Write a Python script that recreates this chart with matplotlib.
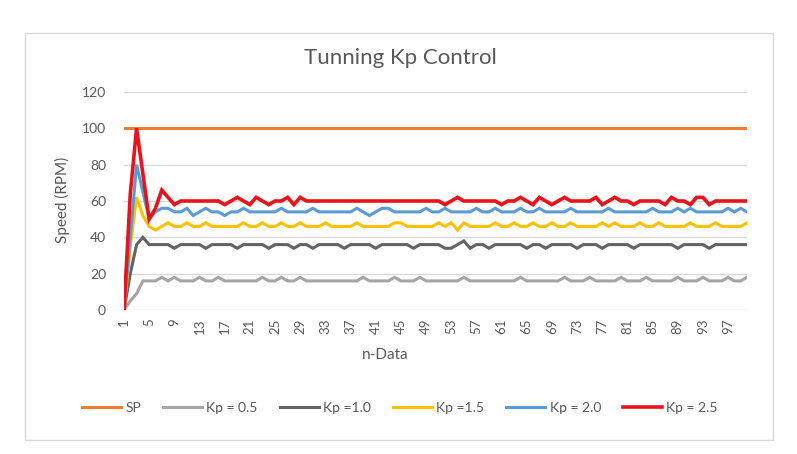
import matplotlib
matplotlib.use("Agg")
import matplotlib.pyplot as plt
from matplotlib.patches import Rectangle

plt.rcParams["font.family"] = ["Lato", "DejaVu Sans"]

# n-Data index 1..100
n_data = list(range(1, 101))

sp = [100, 100, 100, 100, 100, 100, 100, 100, 100, 100,
      100, 100, 100, 100, 100, 100, 100, 100, 100, 100,
      100, 100, 100, 100, 100, 100, 100, 100, 100, 100,
      100, 100, 100, 100, 100, 100, 100, 100, 100, 100,
      100, 100, 100, 100, 100, 100, 100, 100, 100, 100,
      100, 100, 100, 100, 100, 100, 100, 100, 100, 100,
      100, 100, 100, 100, 100, 100, 100, 100, 100, 100,
      100, 100, 100, 100, 100, 100, 100, 100, 100, 100,
      100, 100, 100, 100, 100, 100, 100, 100, 100, 100,
      100, 100, 100, 100, 100, 100, 100, 100, 100, 100]

kp05 = [0, 5, 9, 16, 16, 16, 18, 16, 18, 16,
        16, 16, 18, 16, 16, 18, 16, 16, 16, 16,
        16, 16, 18, 16, 16, 18, 16, 16, 18, 16,
        16, 16, 16, 16, 16, 16, 16, 16, 18, 16,
        16, 16, 16, 18, 16, 16, 16, 18, 16, 16,
        16, 16, 16, 16, 18, 16, 16, 16, 16, 16,
        16, 16, 16, 18, 16, 16, 16, 16, 16, 16,
        18, 16, 16, 16, 18, 16, 16, 16, 16, 18,
        16, 16, 16, 18, 16, 16, 16, 16, 18, 16,
        16, 16, 18, 16, 16, 16, 18, 16, 16, 18]

kp10 = [0, 20, 36, 40, 36, 36, 36, 36, 34, 36,
        36, 36, 36, 34, 36, 36, 36, 36, 34, 36,
        36, 36, 36, 34, 36, 36, 36, 34, 36, 36,
        34, 36, 36, 36, 36, 34, 36, 36, 36, 36,
        34, 36, 36, 36, 36, 36, 34, 36, 36, 36,
        36, 34, 34, 36, 38, 34, 36, 36, 34, 36,
        36, 36, 36, 36, 34, 36, 36, 34, 36, 36,
        36, 36, 34, 36, 36, 36, 34, 36, 36, 36,
        36, 34, 36, 36, 36, 36, 36, 36, 34, 36,
        36, 36, 36, 34, 36, 36, 36, 36, 36, 36]

kp15 = [0, 35, 62, 52, 46, 44, 46, 48, 46, 46,
        48, 46, 46, 48, 46, 46, 46, 46, 46, 48,
        46, 46, 48, 46, 46, 48, 46, 46, 48, 46,
        46, 46, 48, 46, 46, 46, 46, 48, 46, 46,
        46, 46, 46, 48, 48, 46, 46, 46, 46, 46,
        48, 46, 48, 44, 48, 46, 46, 46, 46, 48,
        46, 46, 48, 46, 46, 48, 46, 46, 48, 46,
        46, 48, 46, 46, 46, 46, 48, 46, 48, 46,
        46, 46, 48, 46, 46, 48, 46, 46, 46, 46,
        48, 46, 46, 46, 48, 46, 46, 46, 46, 48]

kp20 = [0, 40, 80, 65, 50, 54, 56, 56, 54, 54,
        56, 52, 54, 56, 54, 54, 52, 54, 54, 56,
        54, 54, 54, 54, 54, 56, 54, 54, 54, 54,
        56, 54, 54, 54, 54, 54, 54, 56, 54, 52,
        54, 56, 56, 54, 54, 54, 54, 54, 56, 54,
        54, 56, 54, 54, 54, 54, 56, 54, 54, 56,
        54, 54, 54, 56, 54, 54, 56, 54, 54, 54,
        54, 56, 54, 54, 54, 54, 54, 56, 54, 54,
        54, 54, 54, 54, 56, 54, 54, 54, 56, 54,
        56, 54, 54, 54, 54, 54, 56, 54, 56, 54]

kp25 = [0, 64, 100, 75, 50, 56, 66, 62, 58, 60,
        60, 60, 60, 60, 60, 60, 58, 60, 62, 60,
        58, 62, 60, 58, 60, 60, 62, 58, 62, 60,
        60, 60, 60, 60, 60, 60, 60, 60, 60, 60,
        60, 60, 60, 60, 60, 60, 60, 60, 60, 60,
        60, 58, 60, 62, 60, 60, 60, 60, 60, 60,
        58, 60, 60, 62, 60, 58, 62, 60, 58, 60,
        62, 60, 60, 60, 60, 62, 58, 60, 62, 60,
        60, 58, 60, 60, 60, 60, 58, 62, 60, 60,
        58, 62, 62, 58, 60, 60, 60, 60, 60, 60]

series = [
    ("SP", sp, "#ED7D31", 2.2),
    ("Kp = 0.5", kp05, "#A5A5A5", 2.2),
    ("Kp =1.0", kp10, "#636363", 2.2),
    ("Kp =1.5", kp15, "#FFC000", 2.2),
    ("Kp = 2.0", kp20, "#5B9BD5", 2.2),
    ("Kp = 2.5", kp25, "#E8141C", 2.6),
]

txt = "#595959"
fig = plt.figure(figsize=(7.97, 4.54), dpi=100)
ax = fig.add_axes([124/797, 1 - 310/454, 623/797, 218/454])

# chart border
fig.patches.append(Rectangle((25/797, 1 - 440/454), 748/797, 407/454,
                             transform=fig.transFigure, fill=False,
                             edgecolor="#D9D9D9", lw=1.0))

for label, vals, col, lw in series:
    ax.plot(n_data, vals, color=col, lw=lw, label=label, solid_joinstyle="miter")

ax.set_xlim(1, 100)
ax.set_ylim(0, 120)
ax.set_yticks(range(0, 121, 20))
ax.set_xticks(range(1, 100, 4))
ax.tick_params(axis="x", labelrotation=90, labelsize=9.5, colors=txt, length=0, pad=6)
ax.tick_params(axis="y", labelsize=10, colors=txt, length=0, pad=13)
ax.grid(axis="y", color="#D9D9D9", lw=1.0)
ax.set_axisbelow(True)
for s in ax.spines.values():
    s.set_visible(False)

fig.text(400/797, 1 - 58/454, "Tunning Kp Control", ha="center", va="center",
         fontsize=16, color=txt)
fig.text(62/797, 1 - 200/454, "Speed (RPM)", rotation=90, ha="center", va="center",
         fontsize=11, color=txt)
fig.text(385/797, 1 - 355/454, "n-Data", ha="center", va="center",
         fontsize=11, color=txt)

fig.legend(loc="center", bbox_to_anchor=(400/797, 1 - 408/454), ncol=6,
           frameon=False, fontsize=10, handlelength=2.8, columnspacing=1.6,
           handletextpad=0.3, labelcolor=txt)

fig.savefig("out.png", dpi=100, facecolor="white")
